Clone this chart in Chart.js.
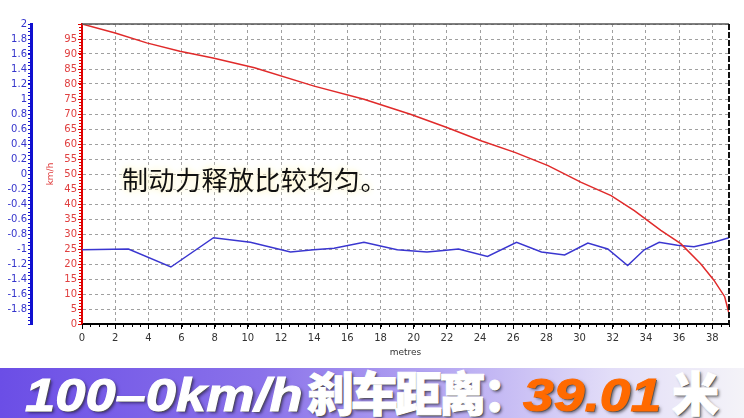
<!DOCTYPE html>
<html>
<head>
<meta charset="utf-8">
<script src="https://cdn.jsdelivr.net/npm/chart.js@4/dist/chart.umd.min.js"></script>
<style>
  body { margin: 0; background: #fff; }
  #wrap { position: relative; width: 744px; height: 418px; overflow: hidden; }
  #chartBox { position: absolute; left: 0; top: 0; width: 744px; height: 368px; }
  #note {
    position: absolute; left: 122px; top: 166px;
    font: 26px/26px "Noto Sans CJK SC", sans-serif; letter-spacing: 0.5px;
    color: #111; white-space: nowrap;
    text-shadow: 0 0 6px #fff3c0, 0 0 10px #fffbe0;
  }
  #banner {
    position: absolute; left: 0; top: 368px; width: 744px; height: 50px; overflow: hidden;
    background: linear-gradient(90deg, #6b4ee6 0%, #8a72ea 35%, #b7a9f2 60%, #e2ddf8 82%, #f4f3f8 100%);
  }
  #bannerText {
    position: absolute; left: 25px; top: -12px; line-height: 44px; white-space: nowrap;
    color: #fff; font-weight: bold;
    -webkit-text-stroke: 1px #fff;
    text-shadow: 1px 1px 0 #555, 2px 2px 3px rgba(0,0,0,0.55);
  }
  .box { display: inline-block; }
  .lat { display: inline-block; transform-origin: left center; font: italic bold 46px "Liberation Sans", Arial, sans-serif; }
  .cn { font: 900 47px "Noto Sans CJK SC", sans-serif; letter-spacing: -3px; }
  .orange { color: #ff6a00; -webkit-text-stroke: 1px #ff6a00; }
</style>
</head>
<body>
<div id="wrap">
  <div id="chartBox"><canvas id="myChart" width="744" height="368"></canvas></div>
  <div id="note">制动力释放比较均匀。</div>
  <div id="banner">
    <div id="bannerText"><span class="box" style="width:282px"><span class="lat" style="transform:scaleX(1.18)">100–0km/h</span></span><span class="box" style="width:216px"><span class="cn">刹车距离：</span></span><span class="box" style="width:149px"><span class="lat orange" style="transform:scaleX(1.2)">39.01</span></span><span class="cn">米</span></div>
  </div>
</div>
<script>
// speed trace (km/h against metres)
const speedDist = [0, 2, 3.9, 5.9, 7.9, 10.4, 14.0, 17.0, 19.8, 22.0, 24.1, 26.1, 28.1, 30.1, 31.9, 33.3, 34.9, 36.1, 37.3, 38.1, 38.75, 39.01];
const speedKmh  = [100, 97.0, 93.7, 90.9, 88.7, 85.4, 79.3, 74.9, 69.9, 65.5, 61.0, 57.2, 52.8, 47.2, 42.8, 37.8, 31.2, 26.8, 20.1, 14.6, 9.1, 3.5];

// deceleration trace (g against metres)
const decelDist = [0, 2.8, 5.36, 7.93, 10.15, 12.57, 13.96, 15.2, 17.0, 19.0, 20.8, 21.8, 22.7, 24.45, 26.2, 27.7, 29.1, 30.5, 31.7, 32.9, 33.9, 34.8, 35.9, 36.9, 38.1, 39.01];
const decelG    = [-1.01, -1.0, -1.24, -0.85, -0.91, -1.04, -1.01, -0.99, -0.91, -1.01, -1.04, -1.02, -1.0, -1.10, -0.91, -1.04, -1.08, -0.92, -1.0, -1.22, -1.01, -0.91, -0.95, -0.97, -0.91, -0.85];

// axis settings
const xMax = 39.01;
const xStep = 2;
const kmhMin = 0, kmhMax = 100, kmhStep = 5;
const gMin = -2, gMax = 2, gStep = 0.2;

const tickFont = { family: 'DejaVu Sans', size: 10 };
const gridGray = '#a0a0a0';

// small ticks between the labelled ones, plus the top and right frame
const minorTicks = {
  id: 'minorTicks',
  afterDraw(chart) {
    const c = chart.ctx;
    const area = chart.chartArea;
    const sx = chart.scales.x, sk = chart.scales.yKm, sg = chart.scales.yG;
    c.save();
    c.lineWidth = 1;

    c.strokeStyle = '#000';
    for (let i = 0; i * 0.5 <= xMax; i++) {
      const px = Math.round(sx.getPixelForValue(i * 0.5)) + 0.5;
      c.beginPath(); c.moveTo(px, area.bottom); c.lineTo(px, area.bottom + 3); c.stroke();
    }

    c.strokeStyle = '#e00000';
    for (let v = kmhMin; v <= kmhMax; v++) {
      const py = Math.round(sk.getPixelForValue(v)) + 0.5;
      c.beginPath(); c.moveTo(sk.right - 3, py); c.lineTo(sk.right, py); c.stroke();
    }

    c.strokeStyle = '#1010d0';
    for (let i = 0; gMin + i * 0.05 <= gMax + 1e-9; i++) {
      const py = Math.round(sg.getPixelForValue(gMin + i * 0.05)) + 0.5;
      c.beginPath(); c.moveTo(sg.right - 3, py); c.lineTo(sg.right + 2, py); c.stroke();
    }

    // frame: top and right
    c.strokeStyle = '#555';
    c.lineWidth = 1.5;
    c.beginPath(); c.moveTo(area.left, area.top); c.lineTo(area.right, area.top); c.stroke();
    c.strokeStyle = '#111';
    c.lineWidth = 2;
    c.setLineDash([6, 2]);
    c.beginPath(); c.moveTo(area.right, area.top); c.lineTo(area.right, area.bottom); c.stroke();
    c.restore();
  }
};

const ctx = document.getElementById('myChart').getContext('2d');

const chart = new Chart(ctx, {
  type: 'line',
  data: {
    datasets: [{
      label: 'km/h',
      data: speedDist.map((d, i) => ({ x: d, y: speedKmh[i] })),
      yAxisID: 'yKm',
      borderColor: '#e02a2a',
      borderWidth: 1.5,
      pointRadius: 0,
      order: 0
    }, {
      label: 'g',
      data: decelDist.map((d, i) => ({ x: d, y: decelG[i] })),
      yAxisID: 'yG',
      borderColor: '#3a36d0',
      borderWidth: 1.5,
      pointRadius: 0,
      order: 1
    }]
  },
  options: {
    responsive: false,
    animation: false,
    layout: { padding: { left: 0, top: 24, right: 15, bottom: 0 } },
    plugins: { legend: { display: false }, tooltip: { enabled: false } },
    scales: {
      x: {
        type: 'linear',
        min: 0,
        max: xMax,
        ticks: { stepSize: xStep, includeBounds: false, color: '#333', font: tickFont, padding: 3, maxRotation: 0 },
        grid: { color: gridGray, tickColor: '#000', tickLength: 5 },
        border: { color: '#000', width: 2, dash: [3, 3] },
        title: { display: true, text: 'metres', color: '#333', font: { family: 'DejaVu Sans', size: 9 }, padding: { top: 0, bottom: 10 } },
        afterFit: (s) => { s.height = 44; }
      },
      yKm: {
        position: 'left',
        weight: 0,
        min: kmhMin,
        max: kmhMax,
        ticks: {
          stepSize: kmhStep, autoSkip: false, color: '#e04040', font: tickFont, padding: 1,
          callback: (v) => (v >= kmhMax ? '' : String(v))
        },
        grid: { color: gridGray, tickColor: '#e00000', tickLength: 4 },
        border: { color: '#e00000', width: 2, dash: [3, 3] },
        title: { display: true, text: 'km/h', color: '#e04040', font: { family: 'DejaVu Sans', size: 9 }, padding: { top: 14, bottom: 0 } },
        afterFit: (s) => { s.width = 51; }
      },
      yG: {
        position: 'left',
        weight: 1,
        min: gMin,
        max: gMax,
        ticks: {
          stepSize: gStep, autoSkip: false, color: '#3434cc', font: tickFont, padding: 1,
          callback: (v) => (v <= gMin + 1e-9 ? '' : String(+v.toFixed(1)))
        },
        grid: { drawOnChartArea: false, tickColor: '#1010d0', tickLength: 3 },
        border: { color: '#1010d0', width: 3 },
        afterFit: (s) => { s.width = 31; }
      }
    }
  },
  plugins: [minorTicks]
});
</script>
</body>
</html>
